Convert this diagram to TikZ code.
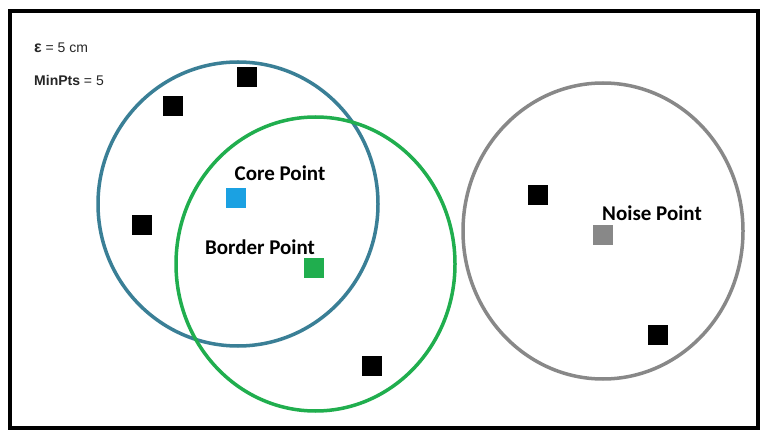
\documentclass[tikz,border=0pt]{standalone}
\usepackage{fontspec}
\setmainfont{Liberation Sans}
\newfontfamily\calib{Carlito}
\begin{document}
\begin{tikzpicture}[x=1pt,y=-1pt,
  pt/.style={minimum size=20pt,inner sep=0pt,draw=none},
  lab/.style={font=\calib\bfseries\fontsize{21}{23}\selectfont,inner sep=0pt},
  par/.style={font=\fontsize{14}{16}\selectfont,inner sep=0pt,anchor=west,text=black!85}]
\definecolor{cblue}{HTML}{3A7F96}
\definecolor{cgreen}{HTML}{20AE4E}
\definecolor{cgray}{HTML}{888888}
\definecolor{sqblue}{HTML}{1BA1E2}
\useasboundingbox (0,0) rectangle (768,438);
\fill[white] (0,0) rectangle (768,438);
\draw[line width=4pt] (10,11) rectangle (758,428);
\node[par] (eps) at (34,48) {\textbf{\fontsize{16}{16}\selectfont ε} = 5 cm};
\node[par] (minpts) at (34,80) {\textbf{MinPts} = 5};
\draw[cblue,line width=3.5pt] (238,204) ellipse [x radius=140, y radius=142];
\draw[cgreen,line width=3.5pt] (315.5,264) ellipse [x radius=139.5, y radius=147];
\draw[cgray,line width=3.5pt] (603,231) ellipse [x radius=140, y radius=148];
\node[pt,fill=black] (b1) at (247,77) {};
\node[pt,fill=black] (b2) at (173,106) {};
\node[pt,fill=black] (b3) at (142,225) {};
\node[pt,fill=black] (b4) at (372,366) {};
\node[pt,fill=black] (b5) at (538,195) {};
\node[pt,fill=black] (b6) at (658,335) {};
\node[pt,fill=sqblue] (core) at (236,198) {};
\node[pt,fill=cgreen] (border) at (314,268) {};
\node[pt,fill=cgray] (noise) at (603,235) {};
\node[lab] (corel) at (280,173) {Core Point};
\node[lab] (borderl) at (260,247) {Border Point};
\node[lab] (noisel) at (652,213) {Noise Point};
\end{tikzpicture}
\end{document}
